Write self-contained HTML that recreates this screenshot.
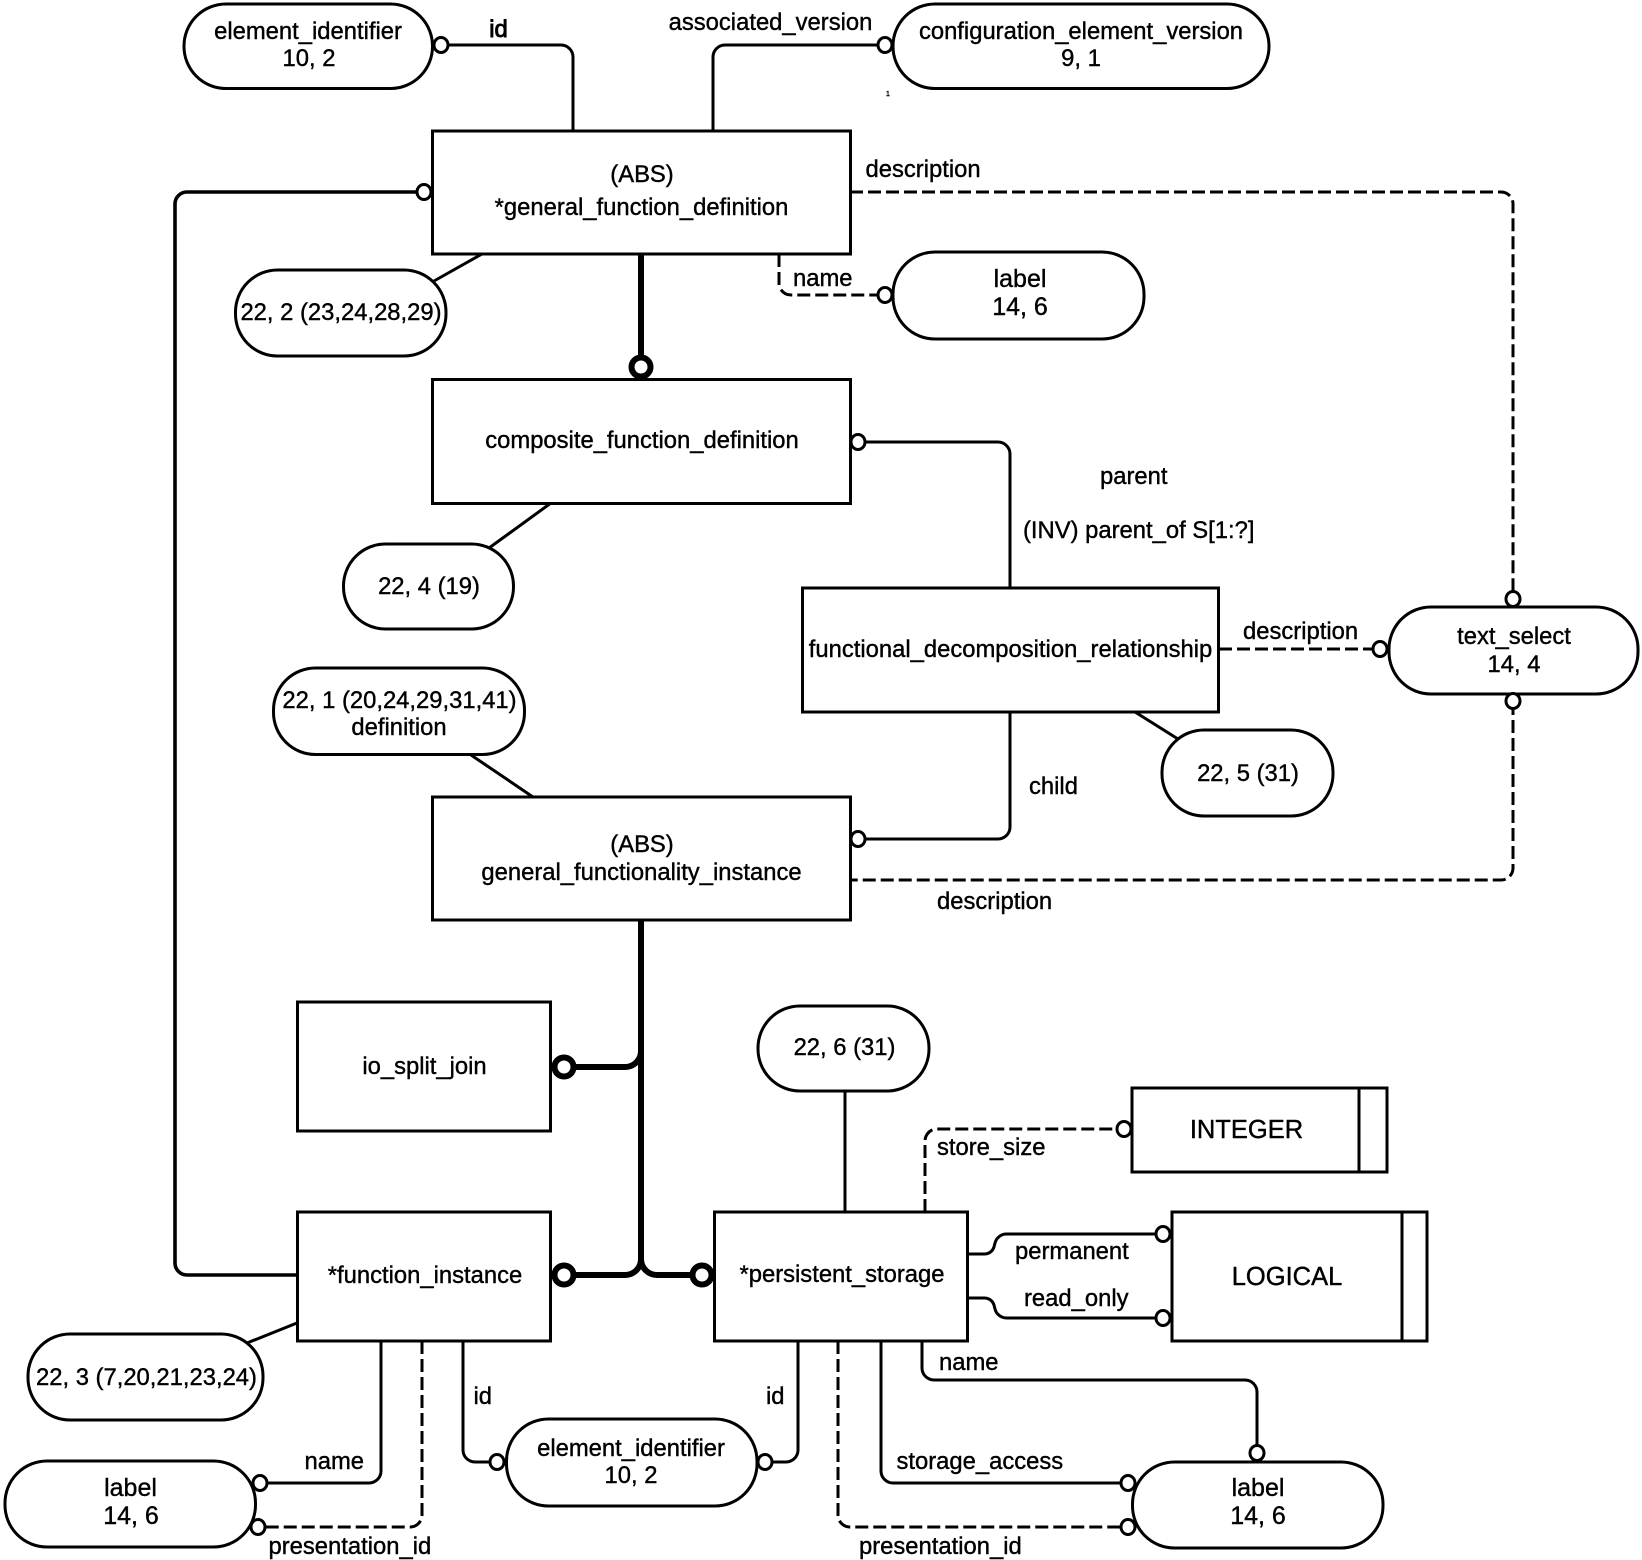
<!DOCTYPE html>
<html><head><meta charset="utf-8"><title>Diagram</title>
<style>
html,body{margin:0;padding:0;background:#fff}
svg{display:block}
text{font-family:"Liberation Sans",Arial,sans-serif;font-size:23.8px;fill:#000;stroke:#000;stroke-width:.4}
.m{text-anchor:middle}
.l{fill:none;stroke:#000;stroke-width:3}
.h{fill:none;stroke:#000;stroke-width:3.6}
.d{fill:none;stroke:#000;stroke-width:3;stroke-dasharray:13 5}
.t{fill:none;stroke:#000;stroke-width:6}
.b{fill:#fff;stroke:#000;stroke-width:3}
.c{fill:#fff;stroke:#000;stroke-width:3}
.k{fill:#fff;stroke:#000;stroke-width:6}
</style></head><body>
<svg width="1642" height="1560" viewBox="0 0 1642 1560" xmlns="http://www.w3.org/2000/svg">
<!-- connectors -->
<path class="l" d="M441 45H561a12 12 0 0 1 12 12V131"/>
<path class="l" d="M885 45H725a12 12 0 0 0 -12 12V131"/>
<path class="h" d="M423 192H187a12 12 0 0 0 -12 12V1263a12 12 0 0 0 12 12H297"/>
<path class="l" d="M482 254L434 281"/>
<path class="t" d="M641 254V355"/>
<path class="d" d="M779 254V283a12 12 0 0 0 12 12H885"/>
<path class="d" d="M850 192H1501a12 12 0 0 1 12 12V599"/>
<path class="l" d="M858 442H998a12 12 0 0 1 12 12V588"/>
<path class="d" d="M1219 649H1380"/>
<path class="d" d="M1513 702V868a12 12 0 0 1 -12 12H850"/>
<path class="l" d="M1010 712V827a12 12 0 0 1 -12 12H858"/>
<path class="l" d="M1135 712L1178 739"/>
<path class="l" d="M551 503L489 548"/>
<path class="l" d="M471 755L533 797"/>
<path class="t" d="M641 920V1259"/>
<path class="t" d="M564 1067H625a16 16 0 0 0 16 -16"/>
<path class="t" d="M564 1275H625a16 16 0 0 0 16 -16"/>
<path class="t" d="M702 1275H657a16 16 0 0 1 -16 -16"/>
<path class="l" d="M297 1323L247 1343"/>
<path class="l" d="M381 1341V1471a12 12 0 0 1 -12 12H260"/>
<path class="d" d="M422 1341V1515a12 12 0 0 1 -12 12H258"/>
<path class="l" d="M463 1341V1450a12 12 0 0 0 12 12H497"/>
<path class="l" d="M798 1341V1450a12 12 0 0 1 -12 12H765"/>
<path class="l" d="M845 1091V1212"/>
<path class="d" d="M925 1212V1141a12 12 0 0 1 12 -12H1124"/>
<path class="l" d="M967 1254H985a10 10 0 0 0 9 -7l1 -4a12 12 0 0 1 12 -9H1163"/>
<path class="l" d="M967 1298H985a10 10 0 0 1 9 7l1 4a12 12 0 0 0 12 9H1163"/>
<path class="l" d="M922 1341V1368a12 12 0 0 0 12 12H1245a12 12 0 0 1 12 12V1453"/>
<path class="l" d="M881 1341V1471a12 12 0 0 0 12 12H1128"/>
<path class="d" d="M838 1341V1515a12 12 0 0 0 12 12H1128"/>
<!-- boxes -->
<rect class="b" x="432.5" y="131" width="418" height="123"/>
<rect class="b" x="432.5" y="379.5" width="418" height="124"/>
<rect class="b" x="802.5" y="588" width="416" height="124"/>
<rect class="b" x="432.5" y="797" width="418" height="123"/>
<rect class="b" x="297.5" y="1002" width="253" height="129"/>
<rect class="b" x="297.5" y="1212" width="253" height="129"/>
<rect class="b" x="714.5" y="1212" width="253" height="129"/>
<rect class="b" x="1132" y="1088" width="255" height="84"/>
<path class="l" d="M1359 1088V1172"/>
<rect class="b" x="1172" y="1212" width="255" height="129"/>
<path class="l" d="M1402 1212V1341"/>
<!-- pills -->
<rect class="b" x="184" y="4" width="248.500" height="84.500" rx="42" ry="42"/>
<rect class="b" x="893" y="4" width="376" height="84.500" rx="42" ry="42"/>
<rect class="b" x="893" y="252" width="251" height="87" rx="42" ry="42"/>
<rect class="b" x="235.500" y="270" width="210.500" height="86" rx="42" ry="42"/>
<rect class="b" x="343.500" y="544" width="170" height="85" rx="42" ry="42"/>
<rect class="b" x="273.500" y="668" width="251" height="86.500" rx="42" ry="42"/>
<rect class="b" x="1389" y="607" width="249" height="87" rx="42" ry="42"/>
<rect class="b" x="1162" y="730" width="171" height="86" rx="42" ry="42"/>
<rect class="b" x="758" y="1006" width="171" height="85" rx="42" ry="42"/>
<rect class="b" x="28" y="1334" width="235" height="86" rx="42" ry="42"/>
<rect class="b" x="5" y="1461" width="250.500" height="86" rx="42" ry="42"/>
<rect class="b" x="506.500" y="1419" width="250.500" height="87" rx="42" ry="42"/>
<rect class="b" x="1132.500" y="1462" width="250.500" height="86" rx="42" ry="42"/>
<!-- small circles -->
<ellipse class="c" cx="441" cy="45" rx="7" ry="7.5"/>
<ellipse class="c" cx="885" cy="45" rx="7" ry="7.500"/>
<ellipse class="c" cx="424" cy="192" rx="7" ry="7.500"/>
<ellipse class="c" cx="885" cy="295" rx="7" ry="7.500"/>
<ellipse class="c" cx="858" cy="442" rx="7" ry="7.500"/>
<ellipse class="c" cx="1513" cy="599" rx="7" ry="7.500"/>
<ellipse class="c" cx="1380" cy="649" rx="7" ry="7.500"/>
<ellipse class="c" cx="1513" cy="701" rx="7" ry="7.500"/>
<ellipse class="c" cx="858" cy="839" rx="7" ry="7.500"/>
<ellipse class="c" cx="260" cy="1483" rx="7" ry="7.500"/>
<ellipse class="c" cx="258" cy="1527" rx="7" ry="7.500"/>
<ellipse class="c" cx="497" cy="1462" rx="7" ry="7.500"/>
<ellipse class="c" cx="765" cy="1462" rx="7" ry="7.500"/>
<ellipse class="c" cx="1124" cy="1129" rx="7" ry="7.500"/>
<ellipse class="c" cx="1163" cy="1234" rx="7" ry="7.500"/>
<ellipse class="c" cx="1163" cy="1318" rx="7" ry="7.500"/>
<ellipse class="c" cx="1257" cy="1453" rx="7" ry="7.500"/>
<ellipse class="c" cx="1128" cy="1483" rx="7" ry="7.500"/>
<ellipse class="c" cx="1128" cy="1527" rx="7" ry="7.500"/>
<!-- thick circles -->
<ellipse class="k" cx="641" cy="367" rx="9.5" ry="9.500"/>
<ellipse class="k" cx="564" cy="1067" rx="9.500" ry="9.500"/>
<ellipse class="k" cx="564" cy="1275" rx="9.500" ry="9.500"/>
<ellipse class="k" cx="702" cy="1275" rx="9.500" ry="9.500"/>
<!-- labels -->
<text class="m" x="308" y="39">element_identifier</text>
<text class="m" x="309" y="66">10, 2</text>
<text class="m" x="498.500" y="37" style="stroke-width:.9">id</text>
<text class="m" x="770.500" y="30">associated_version</text>
<text class="m" x="1081" y="39">configuration_element_version</text>
<text class="m" x="1081" y="66">9, 1</text>
<text x="886" y="96" style="font-size:7px">1</text>
<text class="m" x="642" y="182">(ABS)</text>
<text class="m" x="641.500" y="215">*general_function_definition</text>
<text x="865.500" y="177">description</text>
<text x="793" y="286">name</text>
<text class="m" x="1020" y="287" style="font-size:25px">label</text>
<text class="m" x="1020" y="315" style="font-size:25px">14, 6</text>
<text class="m" x="341" y="320">22, 2 (23,24,28,29)</text>
<text class="m" x="642" y="448">composite_function_definition</text>
<text x="1100" y="484">parent</text>
<text x="1023" y="538">(INV) parent_of S[1:?]</text>
<text class="m" x="429" y="594">22, 4 (19)</text>
<text class="m" x="1010.500" y="657">functional_decomposition_relationship</text>
<text x="1243" y="639">description</text>
<text class="m" x="1514" y="644">text_select</text>
<text class="m" x="1514" y="672">14, 4</text>
<text class="m" x="399.500" y="708">22, 1 (20,24,29,31,41)</text>
<text class="m" x="399" y="735">definition</text>
<text class="m" x="1248" y="781">22, 5 (31)</text>
<text x="1029" y="794">child</text>
<text class="m" x="642" y="852">(ABS)</text>
<text class="m" x="641.500" y="880">general_functionality_instance</text>
<text x="937" y="909">description</text>
<text class="m" x="424.500" y="1074">io_split_join</text>
<text class="m" x="844.500" y="1055">22, 6 (31)</text>
<text x="937" y="1155">store_size</text>
<text class="m" x="1246.500" y="1138" style="font-size:25.500px">INTEGER</text>
<text class="m" x="1287" y="1285" style="font-size:25.500px">LOGICAL</text>
<text x="1015" y="1259">permanent</text>
<text x="1024" y="1306">read_only</text>
<text class="m" x="425" y="1283">*function_instance</text>
<text class="m" x="842" y="1282">*persistent_storage</text>
<text x="939" y="1370">name</text>
<text x="473.500" y="1404">id</text>
<text x="766" y="1404">id</text>
<text class="m" x="146.500" y="1385">22, 3 (7,20,21,23,24)</text>
<text class="m" x="631" y="1456">element_identifier</text>
<text class="m" x="631" y="1483">10, 2</text>
<text x="304.500" y="1469">name</text>
<text class="m" x="130.500" y="1496" style="font-size:25px">label</text>
<text class="m" x="131" y="1524" style="font-size:25px">14, 6</text>
<text x="268.500" y="1554">presentation_id</text>
<text x="896.500" y="1469">storage_access</text>
<text class="m" x="1258" y="1496" style="font-size:25px">label</text>
<text class="m" x="1258" y="1524" style="font-size:25px">14, 6</text>
<text x="859" y="1554">presentation_id</text>
</svg>
</body></html>
